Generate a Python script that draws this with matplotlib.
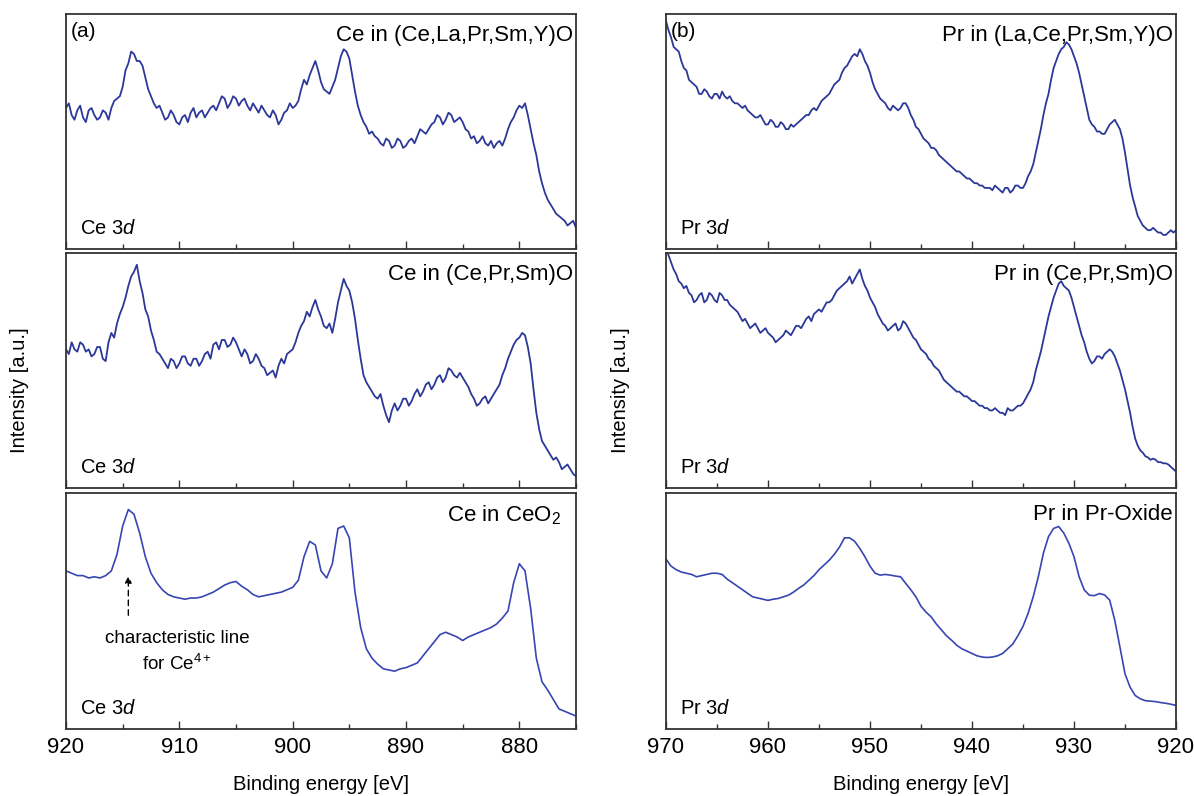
import numpy as np
import matplotlib
matplotlib.use("Agg")
import matplotlib.pyplot as plt

plt.rcParams['font.family'] = ['Liberation Sans', 'DejaVu Sans']
plt.rcParams['mathtext.fontset'] = 'custom'
plt.rcParams['mathtext.rm'] = 'Liberation Sans'
plt.rcParams['mathtext.it'] = 'Liberation Sans:italic'

# ---------------- data (arbitrary intensity units) ----------------
# noisy spectra sampled every 0.25 eV, reference spectra every 0.5 eV
ce_start, pr_start = 920.0, 970.0
fine_step, coarse_step = -0.25, -0.5

ce_mixed5 = [
    0.60, 0.62, 0.57, 0.55, 0.59, 0.61, 0.56, 0.54, 0.59, 0.60, 0.57, 0.55, 0.56, 0.59, 0.58, 0.55, 0.60, 0.63, 0.64, 0.65,
    0.69, 0.76, 0.79, 0.84, 0.83, 0.80, 0.80, 0.78, 0.73, 0.68, 0.65, 0.62, 0.60, 0.61, 0.58, 0.55, 0.56, 0.59, 0.57, 0.54,
    0.53, 0.56, 0.57, 0.54, 0.58, 0.60, 0.56, 0.58, 0.59, 0.56, 0.58, 0.60, 0.61, 0.59, 0.62, 0.65, 0.64, 0.60, 0.62, 0.65,
    0.64, 0.61, 0.63, 0.64, 0.61, 0.59, 0.62, 0.60, 0.58, 0.61, 0.59, 0.57, 0.56, 0.59, 0.57, 0.53, 0.55, 0.58, 0.59, 0.62,
    0.60, 0.61, 0.63, 0.68, 0.72, 0.70, 0.74, 0.77, 0.80, 0.76, 0.71, 0.68, 0.67, 0.66, 0.69, 0.72, 0.77, 0.82, 0.85, 0.84,
    0.81, 0.74, 0.67, 0.61, 0.57, 0.54, 0.52, 0.49, 0.50, 0.48, 0.47, 0.45, 0.44, 0.47, 0.46, 0.43, 0.44, 0.47, 0.46, 0.43,
    0.44, 0.46, 0.47, 0.45, 0.48, 0.51, 0.50, 0.49, 0.51, 0.53, 0.54, 0.57, 0.56, 0.53, 0.55, 0.58, 0.57, 0.54, 0.55, 0.56,
    0.54, 0.51, 0.50, 0.47, 0.48, 0.45, 0.46, 0.48, 0.45, 0.44, 0.46, 0.43, 0.45, 0.46, 0.44, 0.47, 0.51, 0.54, 0.56, 0.59,
    0.61, 0.60, 0.62, 0.57, 0.51, 0.45, 0.40, 0.33, 0.28, 0.24, 0.21, 0.19, 0.17, 0.15, 0.14, 0.13, 0.12, 0.10, 0.11, 0.12,
    0.09]

ce_mixed3 = [
    0.59, 0.57, 0.62, 0.59, 0.58, 0.62, 0.61, 0.58, 0.59, 0.56, 0.57, 0.60, 0.60, 0.55, 0.54, 0.62, 0.66, 0.64, 0.70, 0.74,
    0.77, 0.81, 0.86, 0.90, 0.92, 0.95, 0.88, 0.83, 0.76, 0.73, 0.67, 0.63, 0.58, 0.57, 0.55, 0.53, 0.51, 0.55, 0.54, 0.51,
    0.53, 0.56, 0.56, 0.53, 0.52, 0.55, 0.55, 0.52, 0.54, 0.57, 0.58, 0.55, 0.61, 0.62, 0.59, 0.63, 0.63, 0.60, 0.61, 0.64,
    0.62, 0.59, 0.56, 0.59, 0.57, 0.53, 0.54, 0.57, 0.55, 0.52, 0.51, 0.48, 0.49, 0.50, 0.47, 0.52, 0.55, 0.53, 0.57, 0.58,
    0.59, 0.62, 0.66, 0.69, 0.71, 0.75, 0.73, 0.77, 0.80, 0.76, 0.73, 0.69, 0.68, 0.70, 0.66, 0.72, 0.79, 0.84, 0.89, 0.86,
    0.84, 0.79, 0.72, 0.63, 0.55, 0.48, 0.45, 0.43, 0.41, 0.39, 0.38, 0.40, 0.35, 0.31, 0.28, 0.33, 0.36, 0.33, 0.35, 0.38,
    0.38, 0.35, 0.37, 0.40, 0.42, 0.39, 0.41, 0.44, 0.45, 0.42, 0.44, 0.47, 0.48, 0.45, 0.47, 0.51, 0.50, 0.48, 0.47, 0.49,
    0.47, 0.45, 0.43, 0.40, 0.38, 0.35, 0.36, 0.38, 0.39, 0.36, 0.38, 0.40, 0.42, 0.44, 0.48, 0.51, 0.55, 0.58, 0.61, 0.63,
    0.64, 0.66, 0.65, 0.60, 0.53, 0.42, 0.32, 0.25, 0.20, 0.18, 0.16, 0.14, 0.12, 0.13, 0.11, 0.08, 0.09, 0.10, 0.08, 0.06,
    0.05]

ce_ceo2 = [
    0.67, 0.66, 0.65, 0.65, 0.64, 0.645, 0.64, 0.65, 0.67, 0.74,
    0.86, 0.93, 0.91, 0.83, 0.73, 0.66, 0.62, 0.59, 0.57, 0.56,
    0.555, 0.55, 0.555, 0.555, 0.56, 0.57, 0.58, 0.595, 0.61, 0.62,
    0.625, 0.605, 0.59, 0.57, 0.56, 0.565, 0.57, 0.575, 0.58, 0.59,
    0.60, 0.63, 0.73, 0.795, 0.78, 0.67, 0.64, 0.70, 0.85, 0.86,
    0.81, 0.58, 0.43, 0.34, 0.30, 0.275, 0.255, 0.25, 0.245, 0.255,
    0.26, 0.27, 0.28, 0.31, 0.34, 0.37, 0.40, 0.41, 0.40, 0.39,
    0.375, 0.39, 0.40, 0.41, 0.42, 0.43, 0.445, 0.47, 0.50, 0.62,
    0.70, 0.67, 0.51, 0.30, 0.20, 0.165, 0.125, 0.085, 0.075, 0.065,
    0.055]

pr_mixed5 = [
    0.97, 0.93, 0.90, 0.86, 0.85, 0.84, 0.80, 0.77, 0.76, 0.72, 0.71, 0.70, 0.69, 0.66, 0.66, 0.68, 0.67, 0.65, 0.64, 0.66,
    0.66, 0.64, 0.67, 0.65, 0.64, 0.65, 0.63, 0.62, 0.62, 0.61, 0.60, 0.61, 0.59, 0.58, 0.57, 0.56, 0.56, 0.57, 0.55, 0.53,
    0.53, 0.55, 0.54, 0.52, 0.52, 0.54, 0.53, 0.51, 0.51, 0.53, 0.52, 0.53, 0.54, 0.55, 0.56, 0.57, 0.57, 0.59, 0.60, 0.59,
    0.61, 0.63, 0.64, 0.65, 0.66, 0.68, 0.70, 0.71, 0.72, 0.75, 0.77, 0.78, 0.80, 0.82, 0.83, 0.82, 0.85, 0.83, 0.80, 0.78,
    0.75, 0.71, 0.68, 0.66, 0.64, 0.63, 0.62, 0.60, 0.59, 0.61, 0.60, 0.59, 0.60, 0.62, 0.62, 0.60, 0.57, 0.55, 0.52, 0.51,
    0.49, 0.47, 0.46, 0.45, 0.43, 0.43, 0.42, 0.40, 0.39, 0.38, 0.37, 0.36, 0.35, 0.34, 0.33, 0.33, 0.32, 0.31, 0.30, 0.30,
    0.29, 0.28, 0.28, 0.27, 0.27, 0.26, 0.26, 0.26, 0.25, 0.27, 0.26, 0.25, 0.24, 0.26, 0.26, 0.24, 0.25, 0.27, 0.27, 0.26,
    0.26, 0.28, 0.31, 0.33, 0.36, 0.41, 0.46, 0.51, 0.57, 0.62, 0.66, 0.72, 0.77, 0.80, 0.83, 0.85, 0.86, 0.88, 0.87, 0.85,
    0.82, 0.79, 0.75, 0.70, 0.65, 0.60, 0.55, 0.53, 0.52, 0.50, 0.50, 0.49, 0.49, 0.51, 0.53, 0.54, 0.55, 0.53, 0.51, 0.47,
    0.41, 0.34, 0.27, 0.22, 0.18, 0.14, 0.12, 0.10, 0.09, 0.08, 0.08, 0.09, 0.08, 0.07, 0.07, 0.06, 0.06, 0.07, 0.08, 0.07,
    0.08]

pr_mixed3 = [
    1.02, 0.99, 0.96, 0.93, 0.91, 0.88, 0.87, 0.85, 0.86, 0.83, 0.82, 0.79, 0.80, 0.82, 0.83, 0.79, 0.80, 0.83, 0.82, 0.80,
    0.79, 0.83, 0.82, 0.80, 0.80, 0.78, 0.77, 0.76, 0.75, 0.73, 0.71, 0.72, 0.70, 0.68, 0.69, 0.70, 0.68, 0.66, 0.67, 0.68,
    0.66, 0.65, 0.64, 0.62, 0.63, 0.64, 0.65, 0.67, 0.66, 0.65, 0.67, 0.69, 0.69, 0.68, 0.70, 0.72, 0.73, 0.71, 0.74, 0.75,
    0.76, 0.75, 0.77, 0.79, 0.79, 0.80, 0.82, 0.84, 0.85, 0.86, 0.87, 0.88, 0.90, 0.87, 0.89, 0.91, 0.93, 0.89, 0.86, 0.84,
    0.81, 0.79, 0.77, 0.74, 0.72, 0.70, 0.69, 0.67, 0.68, 0.69, 0.70, 0.67, 0.68, 0.71, 0.70, 0.68, 0.66, 0.64, 0.63, 0.61,
    0.59, 0.58, 0.57, 0.55, 0.54, 0.52, 0.51, 0.50, 0.48, 0.46, 0.45, 0.44, 0.43, 0.42, 0.41, 0.41, 0.40, 0.39, 0.39, 0.38,
    0.37, 0.37, 0.36, 0.35, 0.35, 0.34, 0.34, 0.33, 0.33, 0.34, 0.33, 0.32, 0.32, 0.31, 0.34, 0.33, 0.33, 0.34, 0.35, 0.35,
    0.36, 0.38, 0.40, 0.42, 0.45, 0.50, 0.54, 0.58, 0.63, 0.68, 0.73, 0.77, 0.81, 0.84, 0.87, 0.88, 0.86, 0.85, 0.84, 0.81,
    0.77, 0.73, 0.69, 0.65, 0.62, 0.58, 0.55, 0.53, 0.54, 0.56, 0.56, 0.55, 0.57, 0.58, 0.59, 0.58, 0.56, 0.53, 0.50, 0.46,
    0.42, 0.37, 0.32, 0.26, 0.21, 0.18, 0.16, 0.15, 0.135, 0.13, 0.12, 0.125, 0.12, 0.11, 0.11, 0.105, 0.105, 0.10, 0.09, 0.08,
    0.07]

pr_oxide = [
    0.72, 0.69, 0.675, 0.665, 0.66, 0.655, 0.645, 0.65, 0.655, 0.66,
    0.66, 0.655, 0.635, 0.62, 0.605, 0.59, 0.575, 0.56, 0.555, 0.55,
    0.545, 0.55, 0.553, 0.56, 0.567, 0.58, 0.596, 0.61, 0.63, 0.65,
    0.675, 0.695, 0.715, 0.74, 0.77, 0.81, 0.81, 0.795, 0.765, 0.73,
    0.69, 0.66, 0.652, 0.655, 0.652, 0.648, 0.645, 0.617, 0.59, 0.56,
    0.52, 0.495, 0.475, 0.445, 0.42, 0.395, 0.376, 0.355, 0.34, 0.33,
    0.32, 0.31, 0.305, 0.303, 0.305, 0.31, 0.32, 0.34, 0.36, 0.395,
    0.435, 0.49, 0.56, 0.645, 0.745, 0.815, 0.85, 0.858, 0.83, 0.787,
    0.73, 0.645, 0.59, 0.567, 0.565, 0.574, 0.568, 0.546, 0.46, 0.348,
    0.234, 0.177, 0.142, 0.128, 0.12, 0.118, 0.116, 0.112, 0.109, 0.105,
    0.10]

ce_titles = ["Ce in (Ce,La,Pr,Sm,Y)O", "Ce in (Ce,Pr,Sm)O", "Ce in CeO$_2$"]
pr_titles = ["Pr in (La,Ce,Pr,Sm,Y)O", "Pr in (Ce,Pr,Sm)O", "Pr in Pr-Oxide"]
ce_ticks = [920, 910, 900, 890, 880]
pr_ticks = [970, 960, 950, 940, 930, 920]

# ---------------- figure ----------------
W, H = 1194, 796
fig = plt.figure(figsize=(W / 100, H / 100), dpi=100)

rows_px = [(14, 249), (253, 488), (493, 729)]
cols_px = [(66, 576), (666, 1176)]

c_dark = "#2b3898"
c_light = "#3746b2"
fs_title = 16
fs_tick = 16
fs_label = 14.5

def make_ax(col, row):
    x0, x1 = cols_px[col]
    y0, y1 = rows_px[row]
    return fig.add_axes([x0 / W, 1 - y1 / H, (x1 - x0) / W, (y1 - y0) / H])

ce_sets = [(ce_mixed5, fine_step), (ce_mixed3, fine_step), (ce_ceo2, coarse_step)]
pr_sets = [(pr_mixed5, fine_step), (pr_mixed3, fine_step), (pr_oxide, coarse_step)]

for col in range(2):
    for row in range(3):
        ax = make_ax(col, row)
        if col == 0:
            vals, step = ce_sets[row]
            vals = np.array(vals)
            x = ce_start + step * np.arange(len(vals))
            ax.set_xlim(920, 875)
            ticks = ce_ticks
            minor = np.arange(915, 874, -10)
            title = ce_titles[row]
            tag = "Ce 3$\\it{d}$"
            panel = "(a)"
        else:
            vals, step = pr_sets[row]
            vals = np.array(vals)
            x = pr_start + step * np.arange(len(vals))
            ax.set_xlim(970, 920)
            ticks = pr_ticks
            minor = np.arange(965, 920, -10)
            title = pr_titles[row]
            tag = "Pr 3$\\it{d}$"
            panel = "(b)"
        color = c_light if row == 2 else c_dark
        ax.plot(x, vals, color=color, lw=1.3 if row < 2 else 1.2)
        ax.set_ylim(0, 1)
        ax.set_yticks([])
        ax.set_xticks(ticks)
        ax.set_xticks(minor, minor=True)
        ax.tick_params(axis='x', which='major', direction='in', length=6,
                       width=1.0, labelsize=fs_tick, pad=6, color="#333333")
        ax.tick_params(axis='x', which='minor', direction='in', length=3.5,
                       width=1.0, color="#333333")
        if row < 2:
            ax.tick_params(axis='x', which='major', labelbottom=False)
        for sp in ax.spines.values():
            sp.set_linewidth(1.3)
            sp.set_color("#333333")
        tx = 0.97 if (col == 0 and row == 2) else 0.994
        ax.text(tx, 0.955, title, transform=ax.transAxes, ha='right',
                va='top', fontsize=fs_title)
        ax.text(0.027, 0.045, tag, transform=ax.transAxes, ha='left',
                va='bottom', fontsize=fs_label)
        if row == 0:
            ax.text(0.01, 0.965, panel, transform=ax.transAxes, ha='left',
                    va='top', fontsize=15)
        if row == 2:
            ax.set_xlabel("Binding energy [eV]", fontsize=fs_label, labelpad=12)
        if col == 0 and row == 2:
            ax.annotate("", xy=(914.5, 0.66), xytext=(914.5, 0.47),
                        arrowprops=dict(arrowstyle='-|>', linestyle=(0, (4, 3)),
                                        color='black', lw=1.0,
                                        mutation_scale=10))
            ax.text(910.2, 0.42, "characteristic line\nfor Ce$^{\\mathregular{4+}}$",
                    ha='center', va='top', fontsize=13.5, linespacing=1.45)

fig.text(20 / W, 1 - 390 / H, "Intensity [a.u.]", rotation=90,
         ha='center', va='center', fontsize=fs_label)
fig.text(621 / W, 1 - 390 / H, "Intensity [a.u.]", rotation=90,
         ha='center', va='center', fontsize=fs_label)

fig.savefig("out.png", dpi=100, facecolor='white')
